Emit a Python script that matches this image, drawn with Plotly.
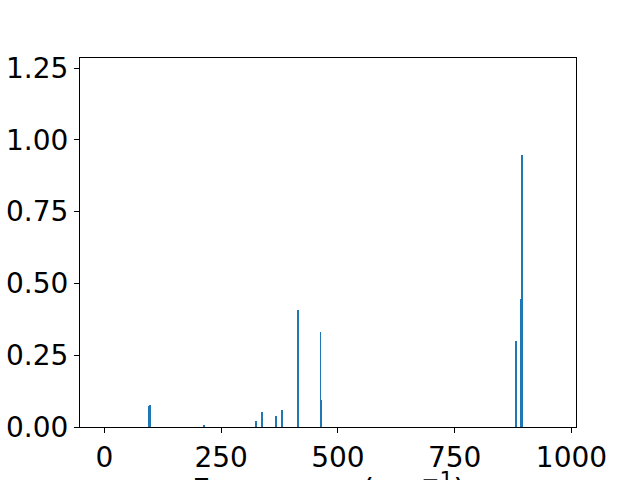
import plotly.graph_objects as go

freqs = [94.3, 97.8, 213.4, 324.8, 337.6, 367.6, 380.5, 414.8, 462.7, 464.0, 881.8, 892.5, 894.6]
intensities = [0.074, 0.078, 0.008, 0.022, 0.053, 0.039, 0.060, 0.408, 0.332, 0.095, 0.298, 0.447, 0.946]
x_ticks = [0, 250, 500, 750, 1000]
y_ticks = [0.0, 0.25, 0.5, 0.75, 1.0, 1.25]
x_label = "Frequency (cm<sup>−1</sup>)"

fig = go.Figure(go.Bar(x=freqs, y=intensities, width=1.6,
                       marker=dict(color="#1f77b4", line=dict(width=0))))

font = dict(family="DejaVu Sans", size=28, color="black")
label_font = dict(family="DejaVu Sans", size=31, color="black")
axis_common = dict(showline=True, linecolor="black", linewidth=1, mirror=True,
                   ticks="outside", ticklen=5, tickcolor="black", tickwidth=1,
                   showgrid=False, zeroline=False, tickfont=font, automargin=False)
fig.update_xaxes(range=[-52.3, 1009.7], tickvals=x_ticks, **axis_common)
fig.update_yaxes(range=[0, 1.285], tickvals=y_ticks, tickformat=".2f", **axis_common)

fig.add_annotation(text=x_label, xref="paper", yref="paper", x=0.502, y=-0.103,
                   xanchor="center", yanchor="top", showarrow=False, font=label_font)

fig.update_layout(width=640, height=480, margin=dict(l=80, r=64, t=58, b=53),
                  plot_bgcolor="white", paper_bgcolor="white", showlegend=False,
                  bargap=0)
fig.write_html("out.html", config={"displayModeBar": False},
               post_script="document.body.style.margin='0';")
